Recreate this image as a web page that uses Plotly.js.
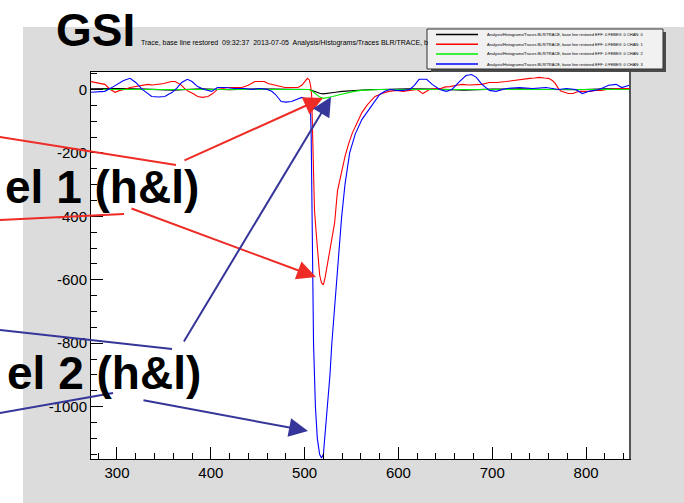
<!DOCTYPE html>
<html><head><meta charset="utf-8">
<script src="https://cdn.plot.ly/plotly-3.0.1.min.js"></script>
<style>html,body{margin:0;padding:0;background:#fff}</style>
</head><body><div id="chart" style="width:684px;height:503px"></div>
<script>
// ---------------- DATA ----------------
const traceNames = [
  "Analysis/Histograms/Traces BLR/TRACE, base line restored EFF: 0 FEBEX: 0 CHAN: 0",
  "Analysis/Histograms/Traces BLR/TRACE, base line restored EFF: 0 FEBEX: 0 CHAN: 1",
  "Analysis/Histograms/Traces BLR/TRACE, base line restored EFF: 0 FEBEX: 0 CHAN: 2",
  "Analysis/Histograms/Traces BLR/TRACE, base line restored EFF: 0 FEBEX: 0 CHAN: 3"
];
const traceColors = ["#000000", "#ff0000", "#00ee00", "#0000ff"];

const blackX = [272,300,330,360,390,420,450,480,500,505,508,512,516,520,524,528,533,540,548,556,566,580,610,640,670,700,730,760,790,820,847];
const blackY = [2,3,1,-2,2,-1,2,0,1,0,-3,-8,-12,-14,-13,-10,-9,-6,-4,-2,-1,0,2,1,-2,1,2,0,-1,2,1];

const redX = [272,278,287,293,298,303,308,314,319,326,333,338,344,350,354,358,362,366,369,372,376,381,386,391,397,402,407,413,418,425,433,440,447,452,457,461,465,472,479,486,493,497,500,503,505,506.5,507.5,508.5,509.5,510.5,512,514,516,518,520,522,524.5,527,529,532,535,539,543,547,551,556,561,567,575,583,590,598,605,612,620,626,633,640,645,650,655,662,668,675,682,689,697,705,715,722,729,735,740,745,750,755,760,764,767,770,773,777,781,786,790,794,799,804,810,816,822,828,835,842,847];
const redY = [25,22,16,0,-9,-3,0,6,9,12,16,14,16,19,22,25,25,19,13,3,-6,-13,-22,-25,-22,-13,0,3,6,6,6,13,25,25,25,19,16,10,6,6,6,13,25,35,30,10,-20,-126,-280,-380,-440,-530,-585,-610,-616,-590,-547,-505,-474,-420,-320,-260,-212,-170,-136,-105,-73,-48,-22,-12,-6,-3,-6,-3,0,-13,0,3,3,8,9,13,16,14,16,16,22,22,25,28,32,33,35,36,38,36,35,28,20,5,-5,-9,-13,-13,-8,-6,-6,-6,-3,-3,0,0,2,3,3];

const greenX = [272,320,380,440,500,505,508,512,516,520,524,530,537,545,553,560,570,580,650,720,790,847];
const greenY = [0,0,0,0,0,0,-5,-16,-24,-28,-26,-22,-17,-11,-6,-3,-1,0,0,0,0,0];

const blueX = [272,280,287,294,301,307,314,320,327,332,337,344,351,355,359,364,369,375,380,386,393,401,407,415,425,436,444,452,460,465,469,475,480,486,492,497,503,506,507,507.5,508.5,509.5,511.5,513.5,516,518,520,522,524.5,527,529,531.5,534,536.5,539.5,543,548,554,561,567,572,580,586,591,598,605,612,617,622,630,636,644,651,657,665,672,678,683,689,697,704,715,729,743,757,771,779,789,796,803,814,824,832,838,846];
const blueY = [-9,-8,-6,5,16,28,35,22,0,-12,-22,-24,-22,-15,-9,5,22,32,25,9,0,-6,6,6,3,3,0,3,0,-6,-16,-38,-40,-38,-30,-25,-32,-32,-150,-300,-600,-800,-1000,-1100,-1150,-1162,-1150,-1080,-1000,-900,-800,-700,-600,-500,-400,-300,-200,-140,-95,-70,-50,-16,-5,0,-3,-3,0,13,32,32,16,0,-6,0,25,44,47,38,16,-3,-6,3,6,3,6,0,3,0,-13,-6,0,13,16,6,13];

const xTickVals = [300,400,500,600,700,800];
const yTickVals = [-1000,-800,-600,-400,-200,0];

const mainLabel = "GSI";
const subTitle = "Trace, base line restored  09:32:37  2013-07-05  Analysis/Histograms/Traces BLR/TRACE, b";
const label1 = "el 1 (h&l)";
const label2 = "el 2 (h&l)";

// ---------------- LAYOUT HELPERS ----------------
const L = 91, R = 630, T = 72, B = 459;
function px(x){ return (x - L) / (R - L); }
function py(y){ return (B - y) / (B - T); }

const seriesX = [blackX, redX, greenX, blueX];
const seriesY = [blackY, redY, greenY, blueY];
const traces = seriesX.map((xs, i) => ({
  type: 'scatter', mode: 'lines', x: xs, y: seriesY[i], name: traceNames[i],
  line: {color: traceColors[i], width: 1.1}, hoverinfo: 'skip'
}));

const shapes = [];
// white strips (slide background outside the grey canvas)
shapes.push({type:'rect', xref:'paper', yref:'paper', x0:px(-5), x1:px(690), y0:py(27), y1:py(-5), fillcolor:'#ffffff', line:{width:0}, layer:'below'});
shapes.push({type:'rect', xref:'paper', yref:'paper', x0:px(-5), x1:px(23), y0:py(510), y1:py(-5), fillcolor:'#ffffff', line:{width:0}, layer:'below'});
// right frame edge
shapes.push({type:'line', xref:'paper', yref:'paper', x0:1, x1:1, y0:0, y1:1, line:{color:'#555555', width:2}});
// legend shadow & box
shapes.push({type:'rect', xref:'paper', yref:'paper', x0:px(431), x1:px(666), y0:py(72), y1:py(32), fillcolor:'#4a4a4a', line:{width:0}});
shapes.push({type:'rect', xref:'paper', yref:'paper', x0:px(427), x1:px(663), y0:py(69), y1:py(29), fillcolor:'#f1f1f1', line:{color:'#333333', width:1}});
const legY = [34.5, 44.3, 54, 64];
traceColors.forEach((c, i) => {
  shapes.push({type:'line', xref:'paper', yref:'paper', x0:px(436), x1:px(478), y0:py(legY[i]), y1:py(legY[i]), line:{color:c, width:1.5}});
});
// leader lines without heads
const redC = '#ee2b24', bluC = '#35359a';
[[0,137,176,165,redC],[0,220,124,214,redC],[0,330,172,349,bluC],[0,413,113,393,bluC]].forEach(s => {
  shapes.push({type:'line', xref:'paper', yref:'paper', x0:px(s[0]-5), y0:py(s[1]-(s[3]-s[1])*5/(s[2]-s[0])), x1:px(s[2]), y1:py(s[3]), line:{color:s[4], width:2}});
});

const annotations = [];
annotations.push({text:'<b>'+mainLabel+'</b>', xref:'paper', yref:'paper', x:px(54), y:py(30), xanchor:'left', yanchor:'middle', showarrow:false,
  font:{family:'Liberation Sans, Arial, sans-serif', size:46, color:'#000'}});
annotations.push({text:subTitle, xref:'paper', yref:'paper', x:px(139), y:py(43), xanchor:'left', yanchor:'middle', showarrow:false,
  font:{family:'Liberation Sans, Arial, sans-serif', size:7, color:'#000'}});
traceNames.forEach((n, i) => {
  annotations.push({text:n, xref:'paper', yref:'paper', x:px(485), y:py(legY[i]), xanchor:'left', yanchor:'middle', showarrow:false,
    font:{family:'Liberation Sans, Arial, sans-serif', size:4, color:'#000'}});
});
annotations.push({text:'<b>'+label1+'</b>', xref:'paper', yref:'paper', x:px(201), y:py(187), xanchor:'right', yanchor:'middle', showarrow:false,
  font:{family:'Liberation Sans, Arial, sans-serif', size:46, color:'#000'}});
annotations.push({text:'<b>'+label2+'</b>', xref:'paper', yref:'paper', x:px(203), y:py(373), xanchor:'right', yanchor:'middle', showarrow:false,
  font:{family:'Liberation Sans, Arial, sans-serif', size:46, color:'#000'}});
// arrows with heads: [tailX, tailY, headX, headY, color]
[[183,161,323,98,redC],[130,208,316,277,redC],[183,343,331,97,bluC],[142,400,308,431,bluC]].forEach(a => {
  annotations.push({text:'', xref:'paper', yref:'paper', x:px(a[2]), y:py(a[3]), ax:a[0]-a[2], ay:a[1]-a[3], axref:'pixel', ayref:'pixel',
    showarrow:true, arrowhead:2, arrowsize:1.9, arrowwidth:2, arrowcolor:a[4], standoff:0, startstandoff:0});
});

const tickFont = {family:'Liberation Sans, Arial, sans-serif', size:15, color:'#000'};
const layout = {
  width:684, height:503,
  margin:{l:L, r:684-R, t:T, b:503-B, pad:0},
  paper_bgcolor:'#dcdcdc', plot_bgcolor:'#ffffff',
  showlegend:false,
  xaxis:{range:[272.3, 846.8], tickvals:xTickVals, ticktext:xTickVals.map(String), ticks:'inside', ticklen:12, tickwidth:1, tickcolor:'#000',
    minor:{dtick:20, tick0:0, ticks:'inside', ticklen:6, tickcolor:'#000', tickwidth:1},
    showline:true, linecolor:'#000', linewidth:1, mirror:true, showgrid:false, zeroline:false, tickfont:tickFont, fixedrange:true},
  yaxis:{range:[-1165, 55], tickvals:yTickVals, ticktext:yTickVals.map(String), ticks:'inside', ticklen:12, tickwidth:1, tickcolor:'#000',
    minor:{dtick:50, tick0:0, ticks:'inside', ticklen:6, tickcolor:'#000', tickwidth:1},
    showline:true, linecolor:'#000', linewidth:1, mirror:true, showgrid:false, zeroline:false, tickfont:tickFont, fixedrange:true},
  shapes:shapes, annotations:annotations
};
Plotly.newPlot('chart', traces, layout, {staticPlot:true, displayModeBar:false});
</script></body></html>
